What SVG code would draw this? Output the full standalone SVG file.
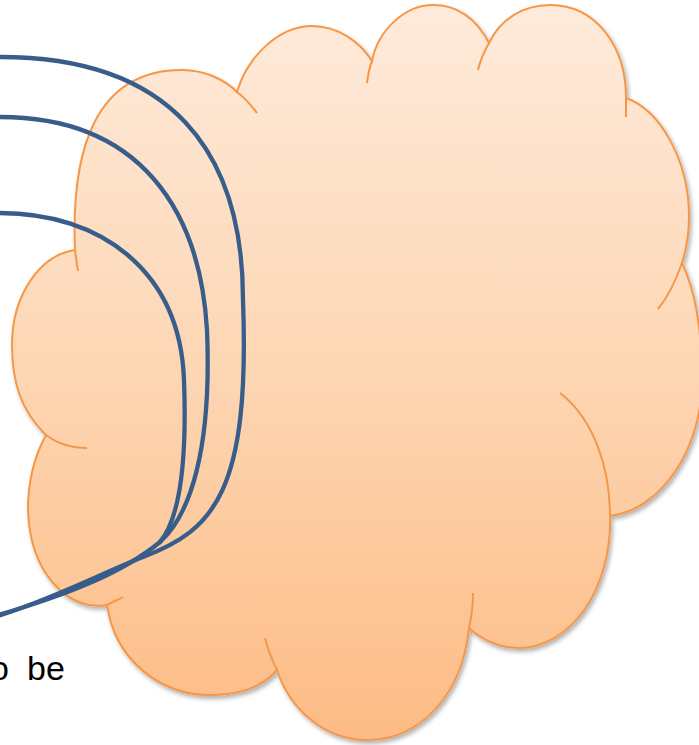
<svg xmlns="http://www.w3.org/2000/svg" width="699" height="745" viewBox="0 0 699 745">
  <defs>
    <linearGradient id="cloudFill" gradientUnits="userSpaceOnUse" x1="0" y1="0" x2="0" y2="745">
      <stop offset="0" stop-color="#FEEBDC"/>
      <stop offset="0.5" stop-color="#FDD6B3"/>
      <stop offset="1" stop-color="#FDBB84"/>
    </linearGradient>
    <filter id="shadow" x="-10%" y="-10%" width="120%" height="120%">
      <feDropShadow dx="2" dy="3" stdDeviation="2" flood-color="#000000" flood-opacity="0.3"/>
    </filter>
  </defs>
  <style>
    .cloud { fill: url(#cloudFill); stroke: #F79646; stroke-width: 2; stroke-linejoin: miter; }
    .inner { fill: none; stroke: #F79646; stroke-width: 2; stroke-linecap: butt; }
    .wire { fill: none; stroke: #385D8A; stroke-width: 4.3; stroke-linecap: round; }
    .label { font-family: "Liberation Sans", Arial, sans-serif; font-size: 34px; fill: #000000; }
  </style>
  <rect width="699" height="745" fill="#FFFFFF"/>
  <g id="cloud">
    <path class="cloud" filter="url(#shadow)" d="M75,250 C71,150 95,70 182,70 C205,70 225,80 237,92 C248,55 280,26 312,26 C338,26 360,42 372,61 C378,30 405,5 433,5 C460,5 478,22 489,43 C500,20 522,5 550,5 C595,5 626,45 626,98 C660,110 689,160 689,217 C689,235 686,250 682,263 C695,290 702,330 702,380 C702,450 660,510 610,516 C612,590 570,648 518,648 C500,648 482,640 469,628 C462,695 420,740 367,740 C325,740 290,710 277,670 C260,690 235,695 210,695 C160,695 115,660 107,605 C70,612 30,575 28,510 C28,480 35,455 46,435 C20,410 12,380 12,345 C12,295 40,255 75,250 Z"/>
    <path class="inner" d="M75,250 C76,258 77,265 78,271"/>
    <path class="inner" d="M237,92 C245,98 251,105 257,113"/>
    <path class="inner" d="M372,61 C369,68 368,76 367,83"/>
    <path class="inner" d="M489,43 C484,52 480,61 478,70"/>
    <path class="inner" d="M626,98 C626,105 626,111 626,117"/>
    <path class="inner" d="M682,263 C676,280 668,297 658,309"/>
    <path class="inner" d="M610,516 C610,470 595,420 560,393"/>
    <path class="inner" d="M469,628 C472,615 473,604 473,593"/>
    <path class="inner" d="M277,670 C272,660 268,650 265,638"/>
    <path class="inner" d="M107,605 C112,602 118,600 123,597"/>
    <path class="inner" d="M46,435 C58,444 72,448 87,448"/>
  </g>
  <g id="connectors">
    <path class="wire" d="M0,57 C170,57 243,150 243,300 C250,490 215,530 143,557 C100,574 55,598 -2,616"/>
    <path class="wire" d="M0,117 C140,117 200,210 207,330 C212,450 190,515 160,542"/>
    <path class="wire" d="M0,213 C100,213 180,270 184,380 C187,460 180,518 160,542"/>
    <path class="wire" d="M160,542 C120,575 60,597 -2,615"/>
  </g>
  <g id="text">
    <text class="label" x="-10" y="680" word-spacing="8.7">o be</text>
  </g>
</svg>
